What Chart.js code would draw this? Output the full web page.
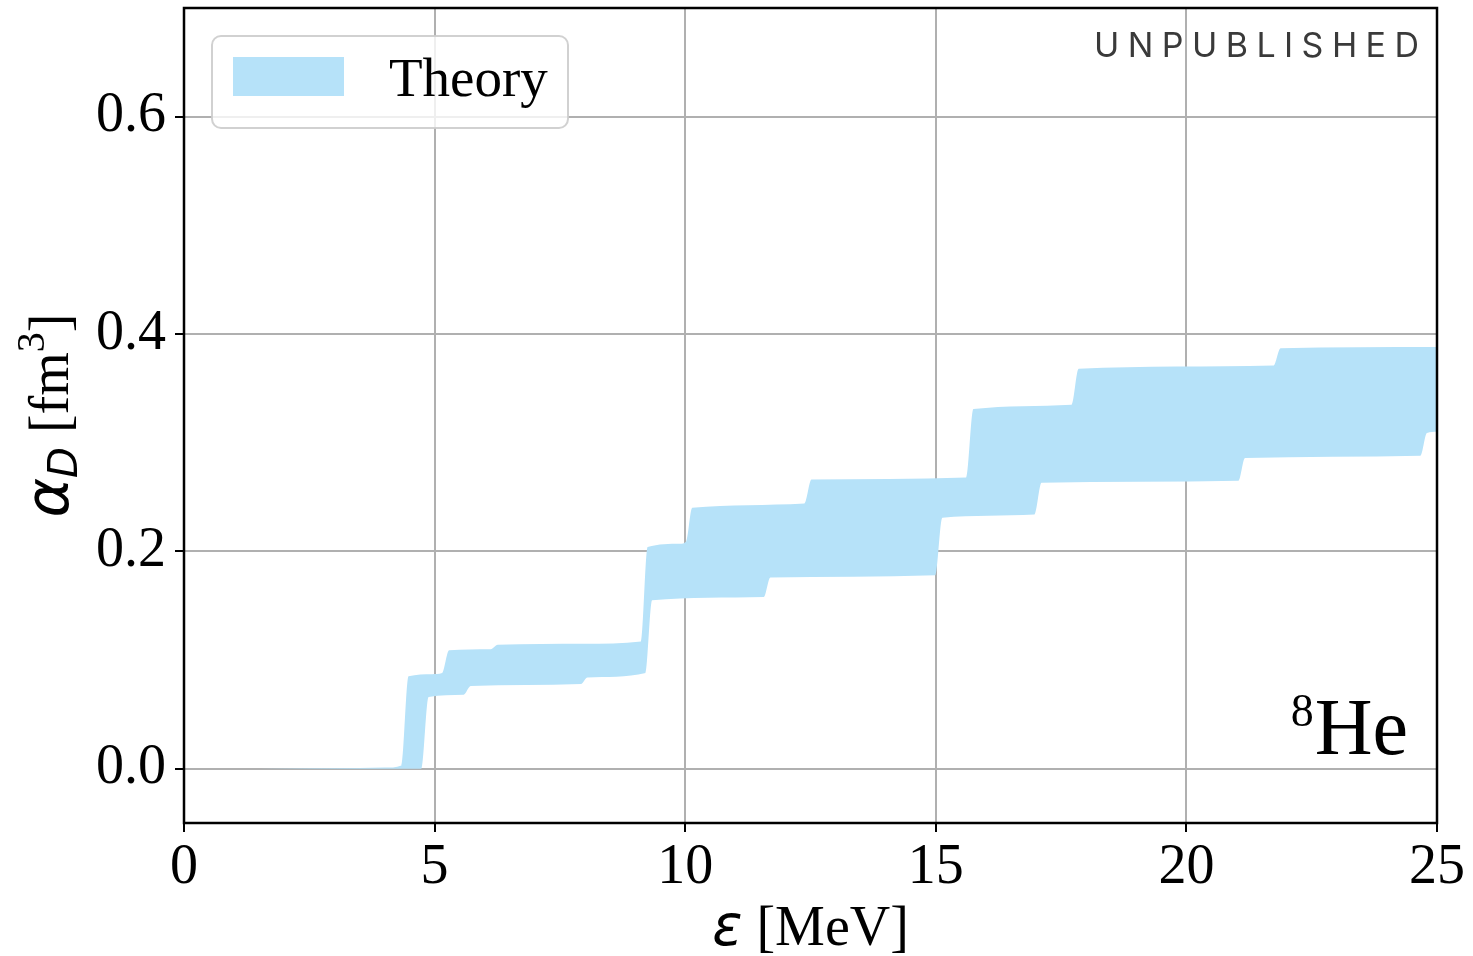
<!DOCTYPE html>
<html>
<head>
<meta charset="utf-8">
<script src="https://cdn.jsdelivr.net/npm/chart.js@4"></script>
<style>
  html, body { margin: 0; padding: 0; background: #fff; }
  #wrap { width: 1473px; height: 956px; }
</style>
</head>
<body>
<div id="wrap"><canvas id="c" width="1473" height="956"></canvas></div>
<script>
// Upper edge of the dipole-polarizability band (energy in MeV, alpha_D in fm^3)
const upperE     = [1.5, 3.5, 4.0, 4.34, 4.48, 4.95, 5.15, 5.29, 6.12, 6.26, 8.00, 9.12, 9.25, 9.90, 10.02, 10.14, 12.38, 12.52, 15.61, 15.75, 17.71, 17.85, 21.74, 21.88, 25.0];
const upperAlpha = [0.000, 0.0005, 0.001, 0.003, 0.085, 0.087, 0.088, 0.109, 0.110, 0.114, 0.115, 0.117, 0.204, 0.207, 0.209, 0.240, 0.244, 0.266, 0.268, 0.331, 0.335, 0.368, 0.371, 0.387, 0.388];

// Lower edge of the band
const lowerE     = [1.5, 4.74, 4.88, 5.58, 5.72, 7.92, 8.05, 9.21, 9.34, 11.57, 11.70, 14.99, 15.13, 16.97, 17.11, 21.04, 21.17, 24.67, 24.80, 25.0];
const lowerAlpha = [0.000, 0.000, 0.066, 0.068, 0.076, 0.078, 0.084, 0.088, 0.155, 0.158, 0.176, 0.178, 0.231, 0.234, 0.263, 0.265, 0.286, 0.288, 0.309, 0.310];

// Axis ticks
const xTicks = [0, 5, 10, 15, 20, 25];
const yTicks = [0.0, 0.2, 0.4, 0.6];

const BAND = 'rgb(182, 226, 249)';
const GRID = '#b0b0b0';
const SERIF = '"Liberation Serif", "Times New Roman", serif';
const MATH = '"DejaVu Sans", sans-serif';

const toPoints = (xs, ys) => xs.map((x, i) => ({ x: x, y: ys[i] }));

// Frame, annotations, legend and composite axis titles
const decorations = {
  id: 'decorations',
  afterDraw(chart) {
    const ctx = chart.ctx;
    const a = chart.chartArea;
    ctx.save();

    // full black frame
    ctx.strokeStyle = '#000';
    ctx.lineWidth = 2.5;
    ctx.strokeRect(a.left, a.top, a.right - a.left, a.bottom - a.top);

    // legend box
    const lx = 212, ly = 36, lw = 356, lh = 92, r = 9;
    ctx.beginPath();
    ctx.roundRect(lx, ly, lw, lh, r);
    ctx.fillStyle = 'rgba(255,255,255,0.8)';
    ctx.fill();
    ctx.strokeStyle = 'rgba(204,204,204,0.9)';
    ctx.lineWidth = 2;
    ctx.stroke();
    ctx.fillStyle = chart.data.datasets[0].backgroundColor;
    ctx.fillRect(233, 57, 111, 39);
    ctx.fillStyle = '#000';
    ctx.font = '55px ' + SERIF;
    ctx.textAlign = 'left';
    ctx.textBaseline = 'alphabetic';
    ctx.fillText(chart.data.datasets[0].label, 389, 96);

    // UNPUBLISHED stamp, letter-spaced
    const stamp = 'UNPUBLISHED';
    ctx.font = '34px Inter, "DejaVu Sans", sans-serif';
    ctx.fillStyle = '#3a3a3a';
    const widths = [...stamp].map(ch => ctx.measureText(ch).width);
    const startX = 1094, endX = 1419;
    const gap = (endX - startX - widths.reduce((s, w) => s + w, 0)) / (stamp.length - 1);
    let sx = startX;
    [...stamp].forEach((ch, i) => { ctx.fillText(ch, sx, 57); sx += widths[i] + gap; });

    // nucleus label
    ctx.fillStyle = '#000';
    ctx.textAlign = 'right';
    ctx.font = '80px ' + SERIF;
    ctx.fillText('He', 1408, 754);
    const heW = ctx.measureText('He').width;
    ctx.font = '46px ' + SERIF;
    ctx.fillText('8', 1408 - heW - 1, 726);

    // x axis title: ε [MeV]
    ctx.textAlign = 'left';
    ctx.font = 'italic 56px ' + MATH;
    const epsW = ctx.measureText('ε').width;
    ctx.font = '56px ' + SERIF;
    const restW = ctx.measureText(' [MeV]').width;
    let tx = (a.left + a.right) / 2 - (epsW + restW) / 2;
    ctx.font = 'italic 56px ' + MATH;
    ctx.fillText('ε', tx, 945);
    ctx.font = '56px ' + SERIF;
    ctx.fillText(' [MeV]', tx + epsW, 945);

    // y axis title: α_D [fm^3]
    ctx.translate(68, (a.top + a.bottom) / 2);
    ctx.rotate(-Math.PI / 2);
    const parts = [
      { t: 'α', f: 'italic 60px ' + MATH, dy: 0 },
      { t: 'D', f: 'italic 40px ' + MATH, dy: 9 },
      { t: ' [fm', f: '56px ' + SERIF, dy: 0 },
      { t: '3', f: '40px ' + SERIF, dy: -24 },
      { t: ']', f: '56px ' + SERIF, dy: 0 }
    ];
    let total = 0;
    parts.forEach(p => { ctx.font = p.f; p.w = ctx.measureText(p.t).width; total += p.w; });
    let px = -total / 2;
    parts.forEach(p => { ctx.font = p.f; ctx.fillText(p.t, px, p.dy); px += p.w; });

    ctx.restore();
  }
};

new Chart(document.getElementById('c'), {
  type: 'line',
  data: {
    datasets: [
      {
        label: 'Theory',
        data: toPoints(upperE, upperAlpha),
        fill: '+1',
        backgroundColor: BAND,
        borderColor: 'rgba(0,0,0,0)',
        borderWidth: 0,
        pointRadius: 0,
        cubicInterpolationMode: 'monotone'
      },
      {
        label: 'Theory (lower)',
        data: toPoints(lowerE, lowerAlpha),
        fill: false,
        backgroundColor: BAND,
        borderColor: 'rgba(0,0,0,0)',
        borderWidth: 0,
        pointRadius: 0,
        cubicInterpolationMode: 'monotone'
      }
    ]
  },
  options: {
    responsive: false,
    animation: false,
    layout: { padding: { top: 8, right: 36, left: 0, bottom: 0 } },
    plugins: { legend: { display: false }, tooltip: { enabled: false } },
    scales: {
      x: {
        type: 'linear',
        min: 0,
        max: 25,
        z: 1,
        afterBuildTicks(s) { s.ticks = xTicks.map(v => ({ value: v })); },
        afterFit(s) { s.height = 133; s.paddingLeft = 0; s.paddingRight = 0; },
        ticks: {
          color: '#000',
          font: { family: SERIF, size: 56 },
          padding: 3,
          maxRotation: 0,
          autoSkip: false,
          callback: v => String(v)
        },
        grid: { color: GRID, lineWidth: 2, tickColor: '#000', tickLength: 9, tickWidth: 2 },
        border: { color: '#000', width: 2 }
      },
      y: {
        type: 'linear',
        min: -0.05,
        max: 0.70,
        z: 1,
        afterBuildTicks(s) { s.ticks = yTicks.map(v => ({ value: v })); },
        afterFit(s) { s.width = 184; s.paddingTop = 0; s.paddingBottom = 0; },
        ticks: {
          color: '#000',
          font: { family: SERIF, size: 56 },
          padding: 9,
          autoSkip: false,
          callback: v => v.toFixed(1)
        },
        grid: { color: GRID, lineWidth: 2, tickColor: '#000', tickLength: 9, tickWidth: 2 },
        border: { color: '#000', width: 2 }
      }
    }
  },
  plugins: [decorations]
});
</script>
</body>
</html>
